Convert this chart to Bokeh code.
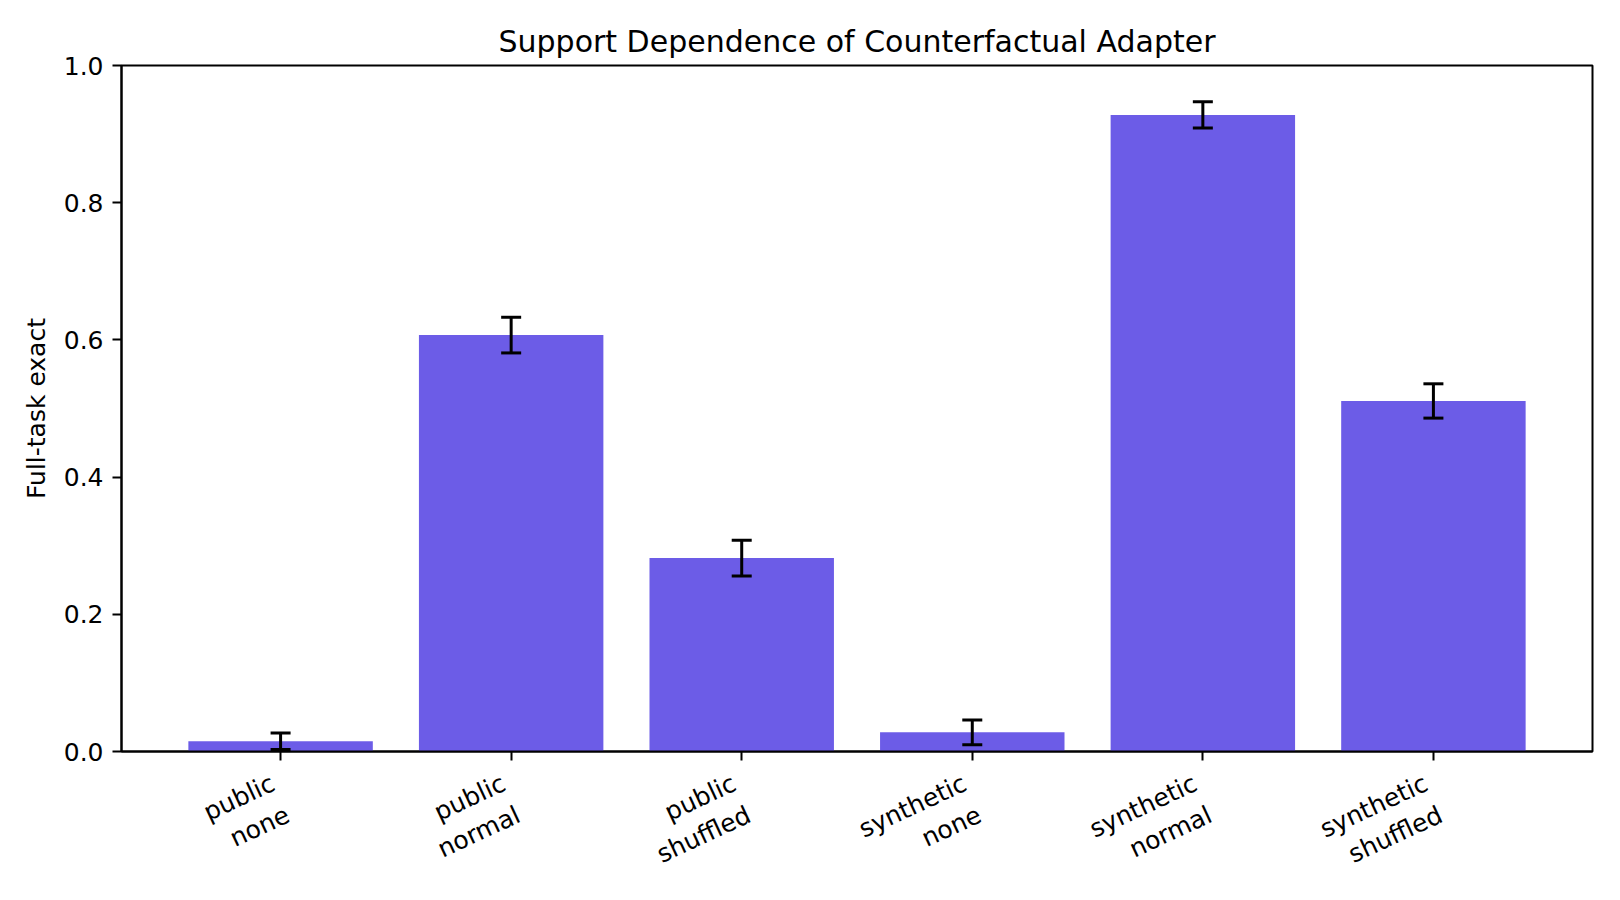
import math
from bokeh.plotting import figure
from bokeh.models import (ColumnDataSource, Whisker, TeeHead, FactorRange, FixedTicker,
                          NumeralTickFormatter)
from bokeh.embed import file_html
from bokeh.resources import INLINE

categories = ["public\nnone", "public\nnormal", "public\nshuffled",
              "synthetic\nnone", "synthetic\nnormal", "synthetic\nshuffled"]
values = [0.015, 0.607, 0.282, 0.028, 0.928, 0.511]
errors = [0.012, 0.026, 0.026, 0.018, 0.019, 0.025]
y_ticks = [0.0, 0.2, 0.4, 0.6, 0.8, 1.0]

title_text = "Support Dependence of Counterfactual Adapter"
y_label = "Full-task exact"

BAR_COLOR = "#6c5ce7"
FONT = "DejaVu Sans"
BAR_WIDTH = 0.8

src = ColumnDataSource(dict(
    x=categories,
    top=values,
    upper=[v + e for v, e in zip(values, errors)],
    lower=[v - e for v, e in zip(values, errors)],
))

# matplotlib-like 5% margins around the bar extent
n = len(categories)
pad_units = (n - 1 + BAR_WIDTH) * 1.1 - n
x_range = FactorRange(factors=categories, range_padding=pad_units / n,
                      range_padding_units="percent")

p = figure(x_range=x_range, y_range=(0, 1),
           frame_width=1471, frame_height=686,
           min_border_left=121, min_border_right=12,
           min_border_top=65, min_border_bottom=133,
           output_backend="svg", toolbar_location=None,
           title=title_text)

p.vbar(x="x", top="top", width=BAR_WIDTH, source=src, fill_color=BAR_COLOR, line_color=None)

wh = Whisker(source=src, base="x", upper="upper", lower="lower",
             line_color="black", line_width=3,
             upper_head=TeeHead(size=20, line_color="black", line_width=3),
             lower_head=TeeHead(size=20, line_color="black", line_width=3),
             level="overlay")
p.add_layout(wh)

p.title.align = "center"
p.title.text_font = FONT
p.title.text_font_size = "30px"
p.title.text_font_style = "normal"
p.title.text_color = "black"
p.title.standoff = 13

p.xgrid.visible = False
p.ygrid.visible = False
p.outline_line_color = "black"
p.outline_line_width = 2
p.outline_line_alpha = 1

for ax in (p.xaxis[0], p.yaxis[0]):
    ax.axis_line_color = "black"
    ax.axis_line_width = 2
    ax.major_tick_line_color = "black"
    ax.major_tick_line_width = 2
    ax.major_tick_out = 9
    ax.major_tick_in = 0
    ax.minor_tick_out = 0
    ax.minor_tick_in = 0
    ax.major_label_text_font = FONT
    ax.major_label_text_font_size = "25px"
    ax.major_label_text_color = "black"
    ax.major_label_standoff = 9

p.xaxis.major_label_orientation = math.radians(25)
p.xaxis.major_label_standoff = 37
p.xaxis.major_label_text_line_height = 1.2

p.yaxis.ticker = FixedTicker(ticks=y_ticks)
p.yaxis.formatter = NumeralTickFormatter(format="0.0")
p.yaxis.axis_label = y_label
p.yaxis.axis_label_text_font = FONT
p.yaxis.axis_label_text_font_size = "25px"
p.yaxis.axis_label_text_font_style = "normal"
p.yaxis.axis_label_text_color = "black"
p.yaxis.axis_label_standoff = 10

p.background_fill_color = "white"
p.border_fill_color = "white"

open("out.html", "w").write(file_html(p, INLINE))
